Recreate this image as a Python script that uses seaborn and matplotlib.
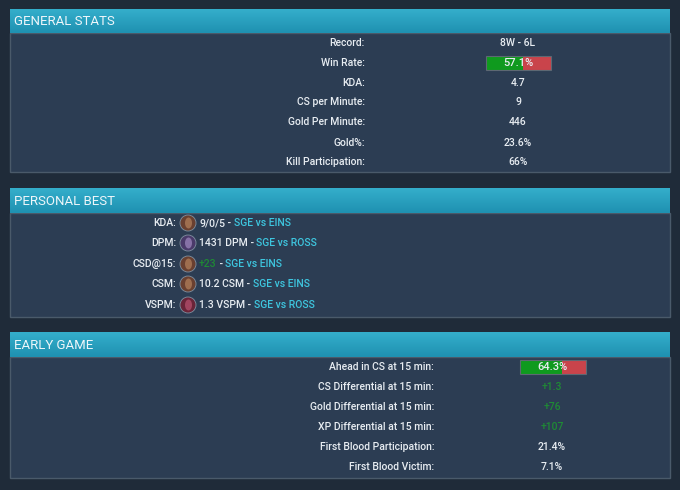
import numpy as np
import matplotlib
matplotlib.use("Agg")
import matplotlib.pyplot as plt
import matplotlib.patches as mpatches
import seaborn as sns

# ── Data ──
general_labels = ["Record:", "Win Rate:", "KDA:", "CS per Minute:", "Gold Per Minute:",
                  "Gold%:", "Kill Participation:"]
general_values = ["8W - 6L", "57.1%", "4.7", "9", "446", "23.6%", "66%"]
win_rate = 57.1

pb_labels = ["KDA:", "DPM:", "CSD@15:", "CSM:", "VSPM:"]
pb_values = ["9/0/5", "1431 DPM", "+23", "10.2 CSM", "1.3 VSPM"]
pb_games = ["SGE vs EINS", "SGE vs ROSS", "SGE vs EINS", "SGE vs EINS", "SGE vs ROSS"]
pb_champs = ["A", "B", "A", "A", "C"]

early_labels = ["Ahead in CS at 15 min:", "CS Differential at 15 min:",
                "Gold Differential at 15 min:", "XP Differential at 15 min:",
                "First Blood Participation:", "First Blood Victim:"]
early_values = ["64.3%", "+1.3", "+76", "+107", "21.4%", "7.1%"]
ahead_cs = 64.3

# ── Style ──
BG = "#1f2b39"
BODY = "#2c3d53"
BORDER = "#4a5a6a"
TXT = "#e8edf2"
LINK = "#3ec6df"
GREEN_TXT = "#1f8a35"
WIN = "#0f9a1e"
LOSS = "#c9444b"
CHAMP = {"A": ("#6a4030", "#c9946a"), "B": ("#4a3a6a", "#b8a0d8"), "C": ("#6a2438", "#d06080")}
FS = 7.5
FW = "medium"

sns.set_theme(style="dark")
plt.rcParams["font.family"] = ["Roboto", "DejaVu Sans"]

fig = plt.figure(figsize=(6.8, 4.9), dpi=100)
fig.patch.set_facecolor(BG)
ax = fig.add_axes([0, 0, 1, 1])
ax.set_xlim(0, 680)
ax.set_ylim(490, 0)
ax.axis("off")
ax.set_facecolor(BG)

grad = np.linspace(0, 1, 30).reshape(-1, 1)
cmap = matplotlib.colors.LinearSegmentedColormap.from_list("hdr", ["#34aecb", "#1f91b1"])


def panel(top, hbot, bottom, title):
    ax.add_patch(mpatches.Rectangle((10, hbot), 660, bottom - hbot, facecolor=BODY,
                                    edgecolor=BORDER, lw=1, zorder=1))
    ax.imshow(grad, cmap=cmap, extent=(10, 670, hbot, top), aspect="auto", zorder=2)
    ax.text(14, (top + hbot) / 2 + 0.5, title, color="#eef6fa", fontsize=9.5,
            fontweight="normal", va="center", ha="left", zorder=3)


def winbar(y, pct, left, width, label):
    ax.barh([y], [width * pct / 100], left=left, height=14, color=WIN,
            edgecolor="none", linewidth=0, zorder=3)
    ax.barh([y], [width * (100 - pct) / 100], left=left + width * pct / 100,
            height=14, color=LOSS, edgecolor="none", linewidth=0, zorder=3)
    ax.add_patch(mpatches.Rectangle((left, y - 7), width, 14, facecolor="none",
                                    edgecolor="#5d6873", lw=0.8, zorder=4))
    ax.text(left + width / 2, y, label, color=TXT, fontsize=8, fontweight=FW,
            ha="center", va="center", zorder=5)


# ── General stats ──
panel(9, 33, 172, "GENERAL STATS")
gen_y = [43, 63, 83, 102, 122, 143, 162]
for y, lab, val in zip(gen_y, general_labels, general_values):
    ax.text(365, y, lab, color=TXT, fontsize=FS, fontweight=FW, ha="right", va="center", zorder=3)
    if lab == "Win Rate:":
        winbar(y, win_rate, 486, 65, val)
    else:
        ax.text(518, y, val, color=TXT, fontsize=FS, fontweight=FW, ha="center",
                va="center", zorder=3)

# ── Personal best ──
panel(188, 213, 317, "PERSONAL BEST")
pb_y = [223, 243, 264, 284, 305]
fig.canvas.draw()
renderer = fig.canvas.get_renderer()
inv = ax.transData.inverted()
for y, lab, val, game, ch in zip(pb_y, pb_labels, pb_values, pb_games, pb_champs):
    ax.text(176, y, lab, color=TXT, fontsize=FS, fontweight=FW, ha="right", va="center", zorder=3)
    face, edge = CHAMP[ch]
    ax.add_patch(mpatches.Circle((188, y), 8, facecolor=face, edgecolor="#8090a0", lw=0.6, zorder=3))
    ax.add_patch(mpatches.Ellipse((188.5, y), 7, 11, facecolor=edge, edgecolor="none",
                                  alpha=0.55, zorder=4))
    x = 199
    for part, col in [(val, GREEN_TXT if val.startswith("+") else TXT), (" - ", TXT),
                      (game, LINK)]:
        t = ax.text(x, y, part, color=col, fontsize=FS, fontweight=FW, ha="left",
                    va="center", zorder=3)
        bb = t.get_window_extent(renderer)
        x = inv.transform((bb.x1, 0))[0]

# ── Early game ──
panel(332, 357, 478, "EARLY GAME")
eg_y = [367, 387, 407, 427, 447, 467]
for y, lab, val in zip(eg_y, early_labels, early_values):
    ax.text(434, y, lab, color=TXT, fontsize=FS, fontweight=FW, ha="right", va="center", zorder=3)
    if lab.startswith("Ahead"):
        winbar(y, ahead_cs, 520, 66, val)
    else:
        col = GREEN_TXT if val.startswith("+") else TXT
        ax.text(552, y, val, color=col, fontsize=FS, fontweight=FW, ha="center",
                va="center", zorder=3)

fig.savefig("out.png", dpi=100, facecolor=fig.get_facecolor())
